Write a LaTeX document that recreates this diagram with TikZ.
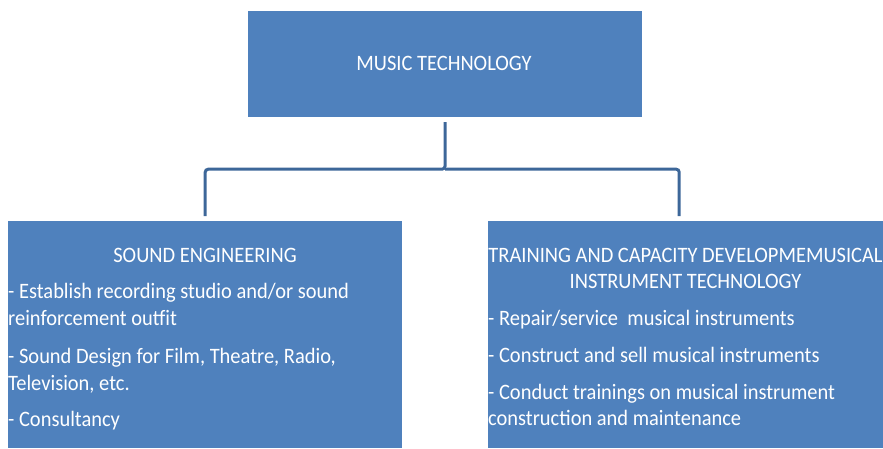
\documentclass[tikz,border=0pt]{standalone}
\usepackage{fontspec}
\setmainfont{Carlito}
\newfontfamily\boxfont[FakeStretch=0.93]{Carlito}
\usetikzlibrary{positioning}
\definecolor{boxblue}{HTML}{4F81BD}
\definecolor{linkblue}{HTML}{3D6799}
\begin{document}
\begin{tikzpicture}[x=1pt,y=-1pt]
    \tikzset {
        block/.style = {fill=boxblue, draw=none, inner sep=0pt, minimum width=#1},
        block/.default = 394pt,
        words/.style = {text=white, inner sep=0pt, font=\boxfont\fontsize{22}{26}\selectfont},
        link/.style = {draw=linkblue, line width=3pt, rounded corners=3pt, shorten >=5pt}
    }
    \useasboundingbox (0,0) rectangle (883,448);
    \node[block, minimum height=106pt] (musictech) at (445,64) {};
    \node[block, minimum height=227pt, anchor=north west] (sound) at (8,221) {};
    \node[block=395pt, minimum height=227pt, anchor=north west] (instrument) at (488,221) {};

    \draw[link, shorten <=5pt] (musictech.south) -- ++(0,52) coordinate (fork) -| (sound.north);
    \draw[link] (fork) -| ([xshift=-6.5pt]instrument.north);

    \node[words, anchor=base] (musichead) at (444,70) {MUSIC TECHNOLOGY};

    \node[words, anchor=base] (soundhead) at (205,262) {SOUND ENGINEERING};
    \node[words, anchor=base west] (sound1) at (8,298) {- Establish recording studio and/or sound};
    \node[words, anchor=base west] (sound1b) at (8,325) {reinforcement outfit};
    \node[words, anchor=base west] (sound2) at (8,363) {- Sound Design for Film, Theatre, Radio,};
    \node[words, anchor=base west] (sound2b) at (8,390) {Television, etc.};
    \node[words, anchor=base west] (sound3) at (8,426) {- Consultancy};

    \node[words, anchor=base] (instrhead) at (685.5,262) {TRAINING AND CAPACITY DEVELOPMEMUSICAL};
    \node[words, anchor=base] (instrheadb) at (685.5,288) {INSTRUMENT TECHNOLOGY};
    \node[words, anchor=base west] (instr1) at (488,325) {- Repair/service\ \ musical instruments};
    \node[words, anchor=base west] (instr2) at (488,362) {- Construct and sell musical instruments};
    \node[words, anchor=base west] (instr3) at (488,399) {- Conduct trainings on musical instrument};
    \node[words, anchor=base west] (instr3b) at (488,425) {construction and maintenance};
\end{tikzpicture}
\end{document}
